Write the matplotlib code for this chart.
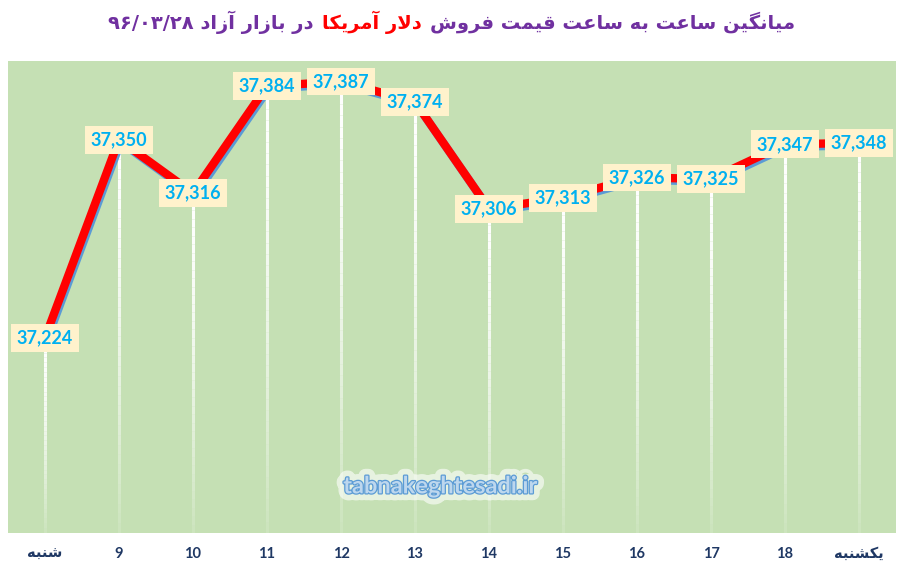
import numpy as np
import matplotlib
matplotlib.use("Agg")
import matplotlib.pyplot as plt
import matplotlib.patheffects as pe
from matplotlib.collections import LineCollection
from matplotlib.offsetbox import TextArea, HPacker, AnchoredOffsetbox

# data
categories = ["شنبه", "9", "10", "11", "12", "13", "14", "15", "16", "17", "18", "یکشنبه"]
prices = [37224, 37350, 37316, 37384, 37387, 37374, 37306, 37313, 37326, 37325, 37347, 37348]
title_parts = ["میانگین ساعت به ساعت قیمت فروش", "دلار آمریکا", "در بازار آزاد ۹۶/۰۳/۲۸"]
title_colors = ["#7030A0", "#FF0000", "#7030A0"]

# minimal persian shaping (matplotlib has no bidi / shaping)
FORMS = {
    'ا': ('\uFE8D', '\uFE8E', None, None),
    'آ': ('\uFE81', '\uFE82', None, None),
    'د': ('\uFEA9', '\uFEAA', None, None),
    'ر': ('\uFEAD', '\uFEAE', None, None),
    'ز': ('\uFEAF', '\uFEB0', None, None),
    'و': ('\uFEED', '\uFEEE', None, None),
    'ب': ('\uFE8F', '\uFE90', '\uFE91', '\uFE92'),
    'ت': ('\uFE95', '\uFE96', '\uFE97', '\uFE98'),
    'س': ('\uFEB1', '\uFEB2', '\uFEB3', '\uFEB4'),
    'ش': ('\uFEB5', '\uFEB6', '\uFEB7', '\uFEB8'),
    'ع': ('\uFEC9', '\uFECA', '\uFECB', '\uFECC'),
    'ف': ('\uFED1', '\uFED2', '\uFED3', '\uFED4'),
    'ق': ('\uFED5', '\uFED6', '\uFED7', '\uFED8'),
    'ک': ('\uFB8E', '\uFB8F', '\uFB90', '\uFB91'),
    'گ': ('\uFB92', '\uFB93', '\uFB94', '\uFB95'),
    'ل': ('\uFEDD', '\uFEDE', '\uFEDF', '\uFEE0'),
    'م': ('\uFEE1', '\uFEE2', '\uFEE3', '\uFEE4'),
    'ن': ('\uFEE5', '\uFEE6', '\uFEE7', '\uFEE8'),
    'ه': ('\uFEE9', '\uFEEA', '\uFEEB', '\uFEEC'),
    'ی': ('\uFBFC', '\uFBFD', '\uFBFE', '\uFBFF'),
}
LAM_ALEF = {'ا': ('\uFEFB', '\uFEFC'), 'آ': ('\uFEF5', '\uFEF6')}
LTR_CHARS = set("0123456789۰۱۲۳۴۵۶۷۸۹/")


def shape(text):
    out = []
    i = 0
    n = len(text)
    while i < n:
        c = text[i]
        if c not in FORMS:
            out.append(c)
            i += 1
            continue
        prev_joins = i > 0 and text[i - 1] in FORMS and FORMS[text[i - 1]][2] is not None
        if c == 'ل' and i + 1 < n and text[i + 1] in LAM_ALEF:
            iso, fin = LAM_ALEF[text[i + 1]]
            out.append(fin if prev_joins else iso)
            i += 2
            continue
        iso, fin, ini, med = FORMS[c]
        next_joins = ini is not None and i + 1 < n and text[i + 1] in FORMS
        if prev_joins and next_joins:
            out.append(med)
        elif prev_joins:
            out.append(fin)
        elif next_joins:
            out.append(ini)
        else:
            out.append(iso)
        i += 1
    # visual order: reverse, keep digit runs left-to-right
    rev = out[::-1]
    res = []
    run = []
    for ch in rev:
        if ch in LTR_CHARS:
            run.append(ch)
        else:
            res.extend(run[::-1])
            run = []
            res.append(ch)
    res.extend(run[::-1])
    return "".join(res)


fig = plt.figure(figsize=(9.04, 5.65), dpi=100)
ax = fig.add_axes([8 / 904, 32 / 565, 888 / 904, 472 / 565])
ax.set_facecolor("#C5E0B4")
for s in ax.spines.values():
    s.set_visible(False)

x = np.arange(len(prices))
ymin, ymax = 37100, 37400
ax.set_xlim(-0.5, len(prices) - 0.5)
ax.set_ylim(ymin, ymax)

# white drop lines fading downwards
segs = []
cols = []
nseg = 40
for xi, yi in zip(x, prices):
    ys = np.linspace(yi, ymin, nseg + 1)
    for k in range(nseg):
        segs.append([(xi, ys[k]), (xi, ys[k + 1])])
        cols.append((1, 1, 1, 1.0 - 0.9 * (k / nseg) ** 1.5))
ax.add_collection(LineCollection(segs, colors=cols, linewidths=2.2, zorder=2))

# red line with blue shadow
ax.plot(x, prices, color="#FF0000", linewidth=6, solid_capstyle="butt", zorder=3,
        path_effects=[pe.SimpleLineShadow(offset=(1.2, -1.8), shadow_color="#5B9BD5", alpha=1),
                      pe.Normal()])

# data labels
for xi, yi in zip(x, prices):
    ax.text(xi, yi, f"{yi:,}", ha="center", va="center", fontsize=13, fontweight="bold",
            family="Lato", color="#00B0F0", zorder=5,
            bbox=dict(boxstyle="square,pad=0.3", fc="#FFF2CC", ec="none"))

ax.set_xticks(x)
ax.set_xticklabels([shape(c) for c in categories], fontsize=10.5, fontweight="bold",
                   color="#1F3864", family=["Lato", "DejaVu Sans"])
ax.tick_params(axis="x", length=0, pad=10)
ax.set_yticks([])

# watermark
ax.text(0.487, 0.1, "tabnakeghtesadi.ir", transform=ax.transAxes, ha="center", va="center",
        fontsize=17, fontweight="bold", family="Lato", color="#BDD7EE", zorder=4,
        path_effects=[pe.Stroke(linewidth=10, foreground="white", alpha=0.6),
                      pe.Stroke(linewidth=1.8, foreground="#5B9BD5"), pe.Normal()])

# two-colour title
areas = []
for part, col in zip(title_parts[::-1], title_colors[::-1]):
    areas.append(TextArea(shape(part), textprops=dict(color=col, fontsize=14, fontweight="bold",
                                                      family="DejaVu Sans")))
box = HPacker(children=areas, align="baseline", pad=0, sep=6)
anch = AnchoredOffsetbox(loc="center", child=box, frameon=False, pad=0, borderpad=0,
                         bbox_to_anchor=(0.5, 1 - 22 / 565), bbox_transform=fig.transFigure)
fig.add_artist(anch)

fig.savefig("out.png", dpi=100)
